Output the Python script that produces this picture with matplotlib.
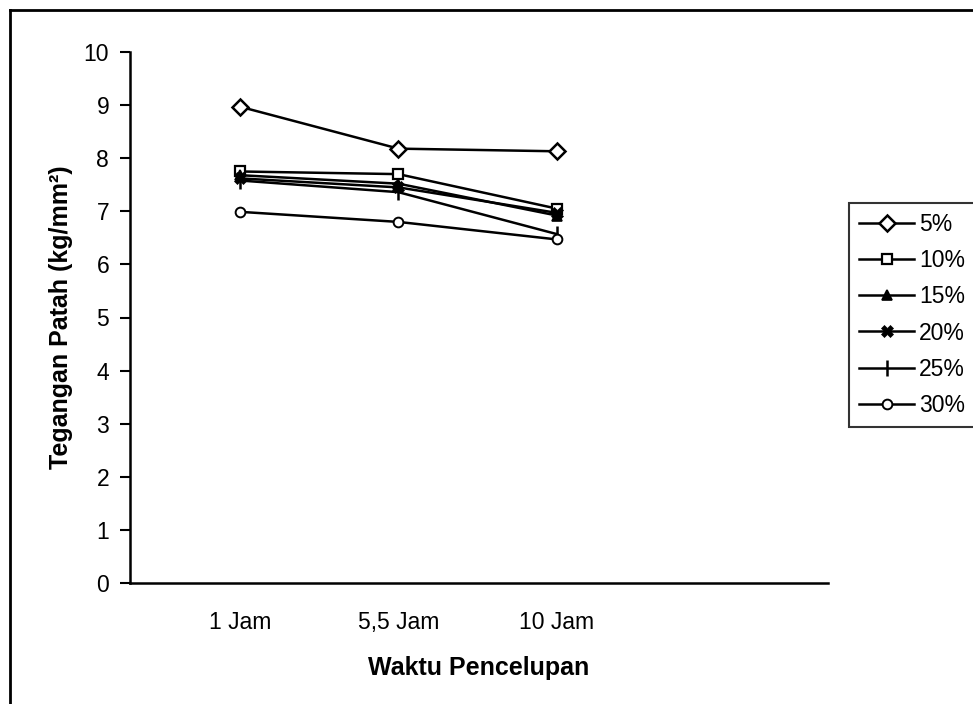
import matplotlib
matplotlib.use("Agg")
import matplotlib.pyplot as plt
from matplotlib.lines import Line2D

plt.rcParams['font.family'] = ['Liberation Sans', 'DejaVu Sans']

# data
waktu = ['1 Jam', '5,5 Jam', '10 Jam']
labels = ['5%', '10%', '15%', '20%', '25%', '30%']
s5 = [8.97, 8.18, 8.13]
s10 = [7.75, 7.70, 7.05]
s15 = [7.68, 7.52, 6.92]
s20 = [7.62, 7.45, 6.97]
s25 = [7.58, 7.36, 6.57]
s30 = [6.99, 6.80, 6.47]
series = [s5, s10, s15, s20, s25, s30]

# marker style per series (Excel-like)
styles = [
    dict(marker='D', ms=8, mfc='white', mew=1.8),
    dict(marker='s', ms=7, mfc='white', mew=1.6),
    dict(marker='^', ms=7, mfc='black', mew=1.2),
    dict(marker='X', ms=9, mfc='black', mew=0.5),
    dict(marker='|', ms=12, mfc='black', mew=1.8),
    dict(marker='o', ms=7, mfc='white', mew=1.4),
]

fig = plt.figure(figsize=(9.73, 7.04), dpi=100)
ax = fig.add_axes([130/973, 1 - 583/704, (828 - 130)/973, (583 - 52)/704])

x = list(range(len(waktu)))
for vals, lab, st in zip(series, labels, styles):
    ax.plot(x, vals, color='black', lw=1.8, mec='black', label=lab, **st)

ax.set_ylim(0, 10)
ax.set_yticks(range(0, 11))
ax.set_xlim(-0.694, 3.71)
ax.set_xticks(x)
ax.set_xticklabels(waktu)

ax.spines['top'].set_visible(False)
ax.spines['right'].set_visible(False)
ax.spines['left'].set_linewidth(1.8)
ax.spines['bottom'].set_linewidth(1.8)
ax.tick_params(axis='y', direction='out', length=7, width=1.5, labelsize=16.5, pad=8)
ax.tick_params(axis='x', length=0, labelsize=16.5, pad=20)

ax.set_ylabel('Tegangan Patah (kg/mm²)', fontsize=18, fontweight='bold', labelpad=8)
ax.set_xlabel('Waktu Pencelupan', fontsize=18, fontweight='bold', labelpad=16)

leg = ax.legend(loc='upper left', bbox_to_anchor=(849/973, 1 - 203/704),
                bbox_transform=fig.transFigure, fontsize=16.5, frameon=True,
                fancybox=False, handlelength=2.4, handletextpad=0.2,
                labelspacing=0.57, borderpad=0.45, borderaxespad=0)
leg.get_frame().set_edgecolor('black')
leg.get_frame().set_linewidth(1.5)

# outer frame of the chart area (top and left edges visible)
fig.add_artist(Line2D([10/973, 1], [1 - 10/704, 1 - 10/704], color='black', lw=2, transform=fig.transFigure))
fig.add_artist(Line2D([10/973, 10/973], [0, 1 - 10/704], color='black', lw=2, transform=fig.transFigure))

fig.savefig('out.png', dpi=100)
